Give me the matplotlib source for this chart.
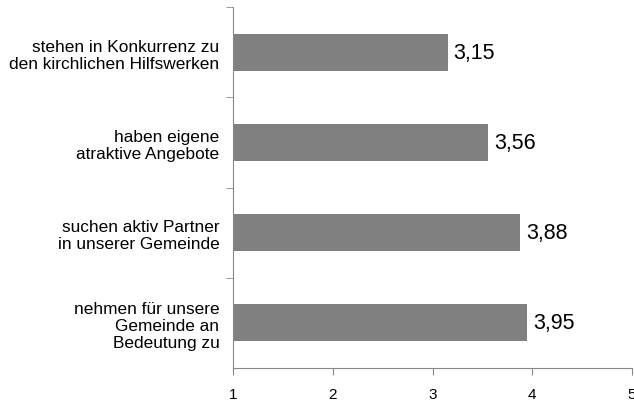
import matplotlib
matplotlib.use("Agg")
import matplotlib.pyplot as plt

plt.rcParams['font.family'] = ['Liberation Sans', 'DejaVu Sans']

# data, top to bottom
labels = ["stehen in Konkurrenz zu\nden kirchlichen Hilfswerken",
          "haben eigene\natraktive Angebote",
          "suchen aktiv Partner\nin unserer Gemeinde",
          "nehmen für unsere\nGemeinde an\nBedeutung zu"]
values = [3.15, 3.56, 3.88, 3.95]
value_text = ["3,15", "3,56", "3,88", "3,95"]
xticks = [1, 2, 3, 4, 5]

axis_col = '#888888'

fig = plt.figure(figsize=(6.34, 4.02), dpi=100)
ax = fig.add_axes([0.368, 0.082, 0.6287, 0.898])

ypos = list(range(len(values)))
ax.barh(ypos, [v - 1 for v in values], left=1, height=0.41, color='#808080')
for y, v, t in zip(ypos, values, value_text):
    ax.text(v + 0.06, y, t, va='center', ha='left', fontsize=15.5)

ax.set_xlim(1, 5)
ax.set_ylim(3.5, -0.5)
ax.set_xticks(xticks)
ax.set_xticklabels([str(x) for x in xticks], fontsize=11)
ax.set_yticks(ypos)
ax.set_yticklabels(labels, fontsize=12.4, linespacing=1.16)
ax.tick_params(axis='y', length=0, pad=10)
ax.set_yticks([-0.5, 0.5, 1.5, 2.5], minor=True)
ax.tick_params(axis='y', which='minor', length=5, color=axis_col, direction='out')
ax.tick_params(axis='x', length=5, color=axis_col, direction='out', pad=9)

for s in ['top', 'right']:
    ax.spines[s].set_visible(False)
for s in ['left', 'bottom']:
    ax.spines[s].set_color(axis_col)

fig.savefig("out.png", dpi=100)
